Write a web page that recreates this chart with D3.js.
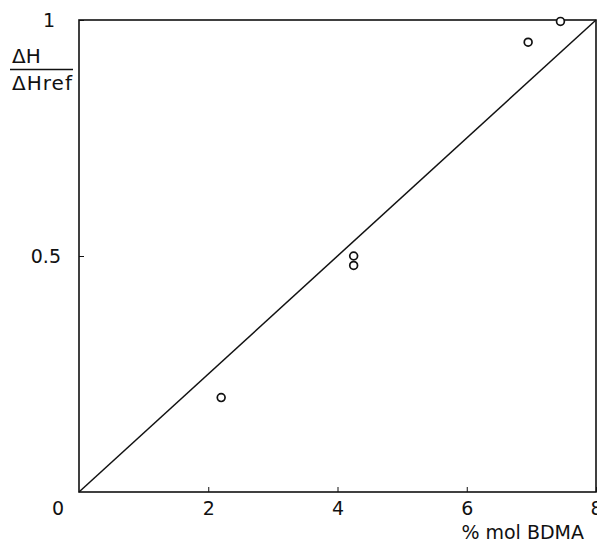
<!DOCTYPE html>
<html>
<head>
<meta charset="utf-8">
<script src="https://cdn.jsdelivr.net/npm/d3@7"></script>
<style>
  body { margin: 0; background: #fff; }
  text { font-family: "DejaVu Sans", sans-serif; fill: #111; }
</style>
</head>
<body>
<svg width="597" height="542"></svg>
<script>
var xTicks = [2, 4, 6, 8];
var yTicks = [0.5, 1];
var pointX = [2.2, 4.25, 4.25, 6.95, 7.45];
var pointY = [0.20, 0.50, 0.48, 0.953, 0.997];
var fitLine = [[0, 0], [8, 1]];

var svg = d3.select("svg"),
    margin = {top: 20, right: 1, bottom: 50, left: 79},
    width = +svg.attr("width") - margin.left - margin.right,
    height = +svg.attr("height") - margin.top - margin.bottom,
    g = svg.append("g").attr("transform", "translate(" + margin.left + "," + margin.top + ")");

var x = d3.scaleLinear().domain([0, 8]).range([0, width]);
var y = d3.scaleLinear().domain([0, 1]).range([height, 0]);

// frame
g.append("rect")
    .attr("width", width)
    .attr("height", height)
    .attr("fill", "none")
    .attr("stroke", "#111")
    .attr("stroke-width", 1.6);

// axes, ticks pointing inward
g.append("g")
    .attr("transform", "translate(0," + height + ")")
    .call(d3.axisBottom(x).tickValues(xTicks).tickSizeInner(-5).tickSizeOuter(0).tickPadding(10).tickFormat(d3.format("d")))
    .call(function (a) {
        a.select(".domain").remove();
        a.selectAll("text").attr("font-size", 19).attr("fill", "#111").attr("font-family", "DejaVu Sans, sans-serif");
        a.selectAll("line").attr("stroke", "#111");
    });

g.append("g")
    .call(d3.axisLeft(y).tickValues(yTicks).tickSizeInner(-5).tickSizeOuter(0).tickPadding(18)
        .tickFormat(function (d) { return d === 1 ? "1" : String(d); }))
    .call(function (a) {
        a.select(".domain").remove();
        a.selectAll("text").attr("font-size", 19).attr("fill", "#111").attr("font-family", "DejaVu Sans, sans-serif");
        a.selectAll("line").attr("stroke", "#111");
        a.selectAll(".tick").filter(function (d) { return d === 1; })
            .select("text").attr("x", -24);
    });

// origin label
g.append("text")
    .attr("x", -21)
    .attr("y", height + 23)
    .attr("font-size", 19)
    .attr("text-anchor", "middle")
    .text("0");

// fitted line
g.append("path")
    .datum(fitLine)
    .attr("fill", "none")
    .attr("stroke", "#111")
    .attr("stroke-width", 1.5)
    .attr("d", d3.line()
        .x(function (d) { return x(d[0]); })
        .y(function (d) { return y(d[1]); }));

// points
g.selectAll("circle")
    .data(pointX.map(function (v, i) { return {x: v, y: pointY[i]}; }))
    .enter().append("circle")
    .attr("cx", function (d) { return x(d.x); })
    .attr("cy", function (d) { return y(d.y); })
    .attr("r", 3.9)
    .attr("fill", "#fff")
    .attr("stroke", "#111")
    .attr("stroke-width", 1.7);

// y label as fraction
svg.append("text").attr("x", 12).attr("y", 63).attr("font-size", 20).text("ΔH");
svg.append("line").attr("x1", 10).attr("x2", 73).attr("y1", 69.5).attr("y2", 69.5)
    .attr("stroke", "#111").attr("stroke-width", 1.6);
svg.append("text").attr("x", 12).attr("y", 90).attr("font-size", 20).attr("textLength", 60).text("ΔHref");

// x label
svg.append("text")
    .attr("x", 584)
    .attr("y", 539)
    .attr("font-size", 19)
    .attr("text-anchor", "end")
    .text("% mol BDMA");
</script>
</body>
</html>
